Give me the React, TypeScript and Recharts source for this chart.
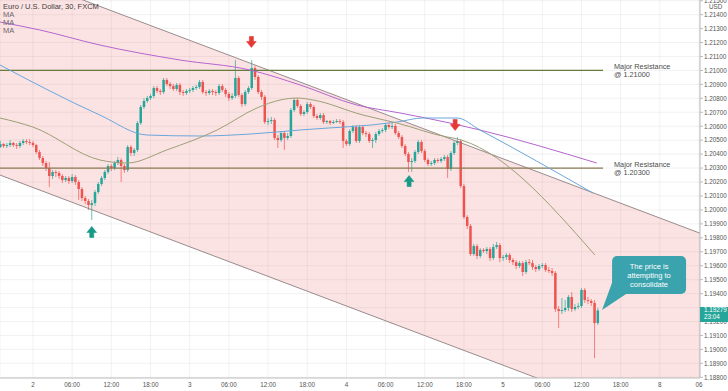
import React from 'react';
import {
  ComposedChart,
  Bar,
  Line,
  Area,
  XAxis,
  YAxis,
  CartesianGrid,
  ReferenceLine,
  ReferenceDot,
} from 'recharts';

// EUR/USD 30m candles, bar index 0 = "2" (00:00), one bar per 30 minutes
const firstBar = -10;
// [open, high, low, close]
const candles: number[][] = [
  [1.20451, 1.20494, 1.20444, 1.20472],
  [1.20472, 1.2048, 1.20444, 1.20458],
  [1.20458, 1.2048, 1.20444, 1.20465],
  [1.20465, 1.20501, 1.20451, 1.2048],
  [1.2048, 1.20487, 1.20451, 1.20465],
  [1.20465, 1.2048, 1.20437, 1.20458],
  [1.20458, 1.20494, 1.20444, 1.2048],
  [1.2048, 1.20508, 1.20465, 1.20494],
  [1.20494, 1.20508, 1.20472, 1.20487],
  [1.20487, 1.20508, 1.20465, 1.2048],
  [1.2048, 1.20494, 1.20451, 1.20465],
  [1.20465, 1.20472, 1.20401, 1.20415],
  [1.20415, 1.2043, 1.20358, 1.20372],
  [1.20372, 1.20386, 1.20315, 1.20336],
  [1.20336, 1.20351, 1.20279, 1.203],
  [1.203, 1.20343, 1.20164, 1.20243],
  [1.20243, 1.20286, 1.20222, 1.20272],
  [1.20272, 1.20286, 1.20236, 1.20265],
  [1.20265, 1.20279, 1.20222, 1.20243],
  [1.20243, 1.20257, 1.20193, 1.20214],
  [1.20214, 1.20243, 1.202, 1.20229],
  [1.20229, 1.20243, 1.20186, 1.20207],
  [1.20207, 1.20257, 1.20193, 1.20236],
  [1.20236, 1.2025, 1.20179, 1.202],
  [1.202, 1.20214, 1.20071, 1.2015],
  [1.2015, 1.20164, 1.20064, 1.20085],
  [1.20085, 1.201, 1.20042, 1.20064],
  [1.20064, 1.20078, 1.19999, 1.20035],
  [1.20035, 1.20071, 1.19928, 1.20049],
  [1.20049, 1.20143, 1.20028, 1.20128],
  [1.20128, 1.202, 1.20114, 1.20186],
  [1.20186, 1.20243, 1.20171, 1.20229],
  [1.20229, 1.20286, 1.20214, 1.20272],
  [1.20272, 1.20329, 1.20257, 1.20315],
  [1.20315, 1.20329, 1.20279, 1.203],
  [1.203, 1.20351, 1.20286, 1.20336],
  [1.20336, 1.20379, 1.20322, 1.20358],
  [1.20358, 1.20372, 1.202, 1.20315],
  [1.20315, 1.20329, 1.20265, 1.20286],
  [1.20286, 1.20465, 1.20272, 1.20451],
  [1.20451, 1.20465, 1.20386, 1.20408],
  [1.20408, 1.20444, 1.20386, 1.2043],
  [1.2043, 1.20637, 1.20415, 1.20623],
  [1.20623, 1.20752, 1.20609, 1.20738],
  [1.20738, 1.20802, 1.20723, 1.20781],
  [1.20781, 1.20817, 1.20767, 1.20802],
  [1.20802, 1.20831, 1.20788, 1.20817],
  [1.20817, 1.20888, 1.20802, 1.20874],
  [1.20874, 1.20888, 1.20838, 1.20853],
  [1.20853, 1.20867, 1.20824, 1.20845],
  [1.20845, 1.20946, 1.20831, 1.20932],
  [1.20932, 1.20946, 1.20888, 1.20903],
  [1.20903, 1.20917, 1.20867, 1.20888],
  [1.20888, 1.20903, 1.20853, 1.20867],
  [1.20867, 1.2091, 1.20853, 1.20896],
  [1.20896, 1.2091, 1.20824, 1.20845],
  [1.20845, 1.2086, 1.20817, 1.20838],
  [1.20838, 1.20867, 1.20824, 1.20853],
  [1.20853, 1.20874, 1.20838, 1.2086],
  [1.2086, 1.20888, 1.20845, 1.20874],
  [1.20874, 1.20896, 1.2086, 1.20881],
  [1.20881, 1.20932, 1.20867, 1.20917],
  [1.20917, 1.20932, 1.20831, 1.20845],
  [1.20845, 1.2086, 1.20817, 1.20838],
  [1.20838, 1.20867, 1.20824, 1.20853],
  [1.20853, 1.20867, 1.20824, 1.20845],
  [1.20845, 1.2086, 1.20817, 1.20838],
  [1.20838, 1.20903, 1.20824, 1.20888],
  [1.20888, 1.20903, 1.20845, 1.2086],
  [1.2086, 1.20874, 1.2081, 1.20831],
  [1.20831, 1.20845, 1.20781, 1.20802],
  [1.20802, 1.20838, 1.20788, 1.20817],
  [1.20817, 1.21075, 1.20802, 1.20946],
  [1.20946, 1.2096, 1.2081, 1.20824],
  [1.20824, 1.20838, 1.20738, 1.20759],
  [1.20759, 1.2086, 1.20745, 1.20845],
  [1.20845, 1.20888, 1.20831, 1.20874],
  [1.20874, 1.21075, 1.2086, 1.21017],
  [1.21017, 1.21032, 1.20932, 1.20953],
  [1.20953, 1.20967, 1.20831, 1.20845],
  [1.20845, 1.2086, 1.20788, 1.2081],
  [1.2081, 1.20824, 1.20616, 1.2063],
  [1.2063, 1.20659, 1.20609, 1.20637],
  [1.20637, 1.20666, 1.20616, 1.20645],
  [1.20645, 1.20659, 1.20501, 1.20516],
  [1.20516, 1.20537, 1.20444, 1.20501],
  [1.20501, 1.20566, 1.20487, 1.20551],
  [1.20551, 1.20566, 1.2043, 1.20516],
  [1.20516, 1.20551, 1.20501, 1.2053],
  [1.2053, 1.20731, 1.20516, 1.20716],
  [1.20716, 1.20802, 1.20702, 1.20788],
  [1.20788, 1.20802, 1.20731, 1.20745],
  [1.20745, 1.20759, 1.20673, 1.20688],
  [1.20688, 1.20716, 1.20673, 1.20702],
  [1.20702, 1.20774, 1.20688, 1.20759],
  [1.20759, 1.20774, 1.20723, 1.20738],
  [1.20738, 1.20752, 1.20659, 1.20673],
  [1.20673, 1.20688, 1.20645, 1.20659],
  [1.20659, 1.20695, 1.20645, 1.2068],
  [1.2068, 1.20695, 1.20616, 1.2063],
  [1.2063, 1.20645, 1.20616, 1.20637],
  [1.20637, 1.20645, 1.20609, 1.20623],
  [1.20623, 1.20645, 1.20616, 1.2063],
  [1.2063, 1.20652, 1.20623, 1.20637],
  [1.20637, 1.20652, 1.20616, 1.2063],
  [1.2063, 1.20645, 1.20444, 1.20494],
  [1.20494, 1.20508, 1.20458, 1.20472],
  [1.20472, 1.2058, 1.20458, 1.20566],
  [1.20566, 1.20609, 1.20551, 1.20594],
  [1.20594, 1.20609, 1.2048, 1.20494],
  [1.20494, 1.20609, 1.2048, 1.20594],
  [1.20594, 1.20609, 1.20537, 1.20551],
  [1.20551, 1.20566, 1.20523, 1.20544],
  [1.20544, 1.20559, 1.2048, 1.20494],
  [1.20494, 1.20516, 1.20444, 1.20501],
  [1.20501, 1.20559, 1.2048, 1.20544],
  [1.20544, 1.2058, 1.2053, 1.20566],
  [1.20566, 1.20587, 1.20551, 1.20573],
  [1.20573, 1.20623, 1.20559, 1.20609],
  [1.20609, 1.20623, 1.2058, 1.20594],
  [1.20594, 1.20623, 1.2058, 1.20602],
  [1.20602, 1.20616, 1.20537, 1.20551],
  [1.20551, 1.20566, 1.20508, 1.20523],
  [1.20523, 1.20537, 1.20444, 1.20458],
  [1.20458, 1.20472, 1.20386, 1.20401],
  [1.20401, 1.20415, 1.20272, 1.20343],
  [1.20343, 1.20372, 1.20272, 1.20351],
  [1.20351, 1.2043, 1.20336, 1.20415],
  [1.20415, 1.20501, 1.20401, 1.20487],
  [1.20487, 1.20501, 1.20408, 1.20422],
  [1.20422, 1.20437, 1.20343, 1.20358],
  [1.20358, 1.20372, 1.20315, 1.20329],
  [1.20329, 1.20351, 1.20315, 1.20336],
  [1.20336, 1.20372, 1.20322, 1.20358],
  [1.20358, 1.20372, 1.20336, 1.20351],
  [1.20351, 1.20379, 1.20336, 1.20365],
  [1.20365, 1.20394, 1.20351, 1.20379],
  [1.20379, 1.20394, 1.20229, 1.20293],
  [1.20293, 1.20422, 1.20279, 1.20408],
  [1.20408, 1.20494, 1.20394, 1.2048],
  [1.2048, 1.20523, 1.20465, 1.20494],
  [1.20494, 1.20508, 1.20157, 1.20171],
  [1.20171, 1.20186, 1.19935, 1.19949],
  [1.19949, 1.19963, 1.19863, 1.19885],
  [1.19885, 1.19899, 1.1967, 1.19684],
  [1.19684, 1.19756, 1.1967, 1.19741],
  [1.19741, 1.19756, 1.19648, 1.1967],
  [1.1967, 1.19727, 1.19655, 1.19713],
  [1.19713, 1.19727, 1.19691, 1.19705],
  [1.19705, 1.19734, 1.19684, 1.1972],
  [1.1972, 1.19734, 1.19634, 1.19655],
  [1.19655, 1.19756, 1.19641, 1.19734],
  [1.19734, 1.1977, 1.1972, 1.19748],
  [1.19748, 1.19763, 1.19626, 1.19655],
  [1.19655, 1.19677, 1.19634, 1.19662],
  [1.19662, 1.19691, 1.19641, 1.19677],
  [1.19677, 1.19691, 1.19619, 1.19641],
  [1.19641, 1.19655, 1.19605, 1.19626],
  [1.19626, 1.19641, 1.19576, 1.19598],
  [1.19598, 1.19634, 1.19583, 1.19619],
  [1.19619, 1.19634, 1.19526, 1.19555],
  [1.19555, 1.19641, 1.1954, 1.19626],
  [1.19626, 1.19648, 1.19605, 1.19619],
  [1.19619, 1.19641, 1.19569, 1.19591],
  [1.19591, 1.19605, 1.19555, 1.19576],
  [1.19576, 1.19612, 1.19562, 1.19598],
  [1.19598, 1.19619, 1.19583, 1.19605],
  [1.19605, 1.19619, 1.19555, 1.19569],
  [1.19569, 1.19591, 1.19548, 1.19562],
  [1.19562, 1.19583, 1.19526, 1.19548],
  [1.19548, 1.19562, 1.19268, 1.19289],
  [1.19289, 1.19311, 1.19153, 1.19275],
  [1.19275, 1.19368, 1.19254, 1.19282],
  [1.19282, 1.19354, 1.19268, 1.19297],
  [1.19297, 1.1939, 1.19275, 1.19376],
  [1.19376, 1.19411, 1.19268, 1.19289],
  [1.19289, 1.19325, 1.19275, 1.19304],
  [1.19304, 1.19333, 1.19289, 1.19311],
  [1.19311, 1.1944, 1.19297, 1.19426],
  [1.19426, 1.1944, 1.19333, 1.19354],
  [1.19354, 1.19376, 1.19325, 1.19347],
  [1.19347, 1.19361, 1.19311, 1.19333],
  [1.19333, 1.19354, 1.18938, 1.19189],
  [1.19189, 1.19297, 1.19175, 1.19279],
];

const lastPrice = 1.19279;
const countdown = '23:04';

// moving averages, [bar index, price]
const purpleMA = [
  [-10.1, 1.21347], [2.1, 1.2129], [20.5, 1.21182], [45, 1.21075], [66.5, 1.21003],
  [81.8, 1.20896], [99.2, 1.20752], [112.4, 1.20695], [127.7, 1.20623], [136.9, 1.20573],
  [172.7, 1.20336],
];
const blueMA = [
  [-10.1, 1.21039], [20.5, 1.2068], [34.9, 1.20537], [51.1, 1.2053], [66.5, 1.20544],
  [81.8, 1.20573], [111.5, 1.2063], [119.4, 1.20659], [129.9, 1.20659], [136.9, 1.20573],
  [171.5, 1.20121],
];
const oliveMA = [
  [-10.1, 1.20659], [0, 1.20594], [20.5, 1.20358], [28.8, 1.20336], [41, 1.2043],
  [56.4, 1.20573], [68.6, 1.20731], [75.7, 1.20788], [80.9, 1.20802], [85.8, 1.20788],
  [101.1, 1.2068], [111.5, 1.20623], [126.8, 1.20523], [128.6, 1.20516], [172.1, 1.19677],
];

// descending channel: [bar index, lower, upper]
const channel = [
  [-10.1, 1.2025, 1.2173],
  [204.3, 1.18353, 1.19833],
];

const resistances = [
  { price: 1.21, label: '@ 1.21000', color: '#667a3d' },
  { price: 1.203, label: '@ 1.20300', color: '#8a7a55' },
];
const resistanceEnd = 174.6;

const arrows = [
  { i: 66.9, price: 1.21204, down: true },
  { i: 129.3, price: 1.20609, down: true },
  { i: 18, price: 1.19842, down: false },
  { i: 115.2, price: 1.20207, down: false },
];

const calloutAt = { i: 174.3, price: 1.19282 };
const calloutLines = ['The price is', 'attempting to', 'consolidate'];

const xTicks = [0, 12, 24, 36, 48, 60, 72, 84, 96, 108, 120, 132, 144, 156, 168, 180, 192, 204];
const xTickLabels = ['2', '06:00', '12:00', '18:00', '3', '06:00', '12:00', '18:00', '4',
  '06:00', '12:00', '18:00', '5', '06:00', '12:00', '18:00', '8', '06'];
const yTicks = [1.188, 1.189, 1.19, 1.191, 1.192, 1.193, 1.194, 1.195, 1.196, 1.197, 1.198,
  1.199, 1.2, 1.201, 1.202, 1.203, 1.204, 1.205, 1.206, 1.207, 1.208, 1.209, 1.21, 1.211,
  1.212, 1.213, 1.214, 1.215];

const UP = '#26a69a';
const DOWN = '#ef5350';
const FONT = '"Liberation Sans", "DejaVu Sans", Arial, sans-serif';

const data = candles.map((k, n) => ({ i: firstBar + n, o: k[0], h: k[1], l: k[2], c: k[3] }));
const toPts = (arr: number[][]) => arr.map(([i, p]) => ({ i, p }));
const channelData = channel.map(([i, lo, hi]) => ({ i, lo, hi, band: [lo, hi] }));
// last price goes last so its badge is painted over the other labels
const axisTicks = [...yTicks, lastPrice];

const Candle = (props: any) => {
  const { x, y, width, height, payload } = props;
  if (!payload) return null;
  const { o, h, l, c } = payload;
  const top = Math.min(y, y + height);
  const span = Math.abs(height);
  const cx = x + width / 2;
  const range = h - l;
  const yOf = (v: number) => (range > 0 ? top + ((h - v) / range) * span : top);
  const bTop = yOf(Math.max(o, c));
  const bBot = yOf(Math.min(o, c));
  const color = c >= o ? UP : DOWN;
  return (
    <g>
      <line x1={cx} x2={cx} y1={top} y2={top + span} stroke={color} strokeWidth={0.7} />
      <rect x={cx - 1.25} y={bTop} width={2.5} height={Math.max(bBot - bTop, 0.7)} fill={color} />
    </g>
  );
};

const Arrow = ({ cx, cy, down }: any) => {
  const s = down ? 1 : -1;
  const color = down ? '#e53935' : '#179a86';
  const d = `M${cx - 2},${cy - 5.5 * s} L${cx + 2},${cy - 5.5 * s} L${cx + 2},${cy - 0.5 * s} ` +
    `L${cx + 4.8},${cy - 0.5 * s} L${cx},${cy + 5.5 * s} L${cx - 4.8},${cy - 0.5 * s} ` +
    `L${cx - 2},${cy - 0.5 * s} Z`;
  return <path d={d} fill={color} stroke={color} strokeWidth={0.6} strokeLinejoin="round" />;
};

const Callout = ({ cx, cy }: any) => (
  <g>
    <path d={`M${cx},${cy} L${cx + 11},${cy - 30} L${cx + 24},${cy - 16} Z`} fill="#3aa3ad" />
    <rect x={cx + 10} y={cy - 54} width={74} height={38} rx={5} fill="#3aa3ad" />
    <text textAnchor="middle" fontSize={7.5} fill="#fff" fontFamily={FONT}>
      {calloutLines.map((t, k) => (
        <tspan key={k} x={cx + 47} y={cy - 41.5 + k * 9}>{t}</tspan>
      ))}
    </text>
  </g>
);

const PriceTick = ({ x, y, payload }: any) => {
  const v = payload.value;
  if (v === lastPrice) {
    return (
      <g>
        <rect x={x - 4} y={y - 3.5} width={28} height={15} fill={UP} />
        <text x={x} y={y + 1.8} fontSize={6.3} fill="#fff" fontFamily={FONT}>{lastPrice.toFixed(5)}</text>
        <text x={x} y={y + 9} fontSize={6.3} fill="#fff" fontFamily={FONT}>{countdown}</text>
      </g>
    );
  }
  // labels fully hidden behind the last-price badge
  if (v > lastPrice && v - lastPrice < 0.0004) return null;
  return (
    <g>
      <text x={x} y={y} dy={2.3} fontSize={6.3} fill="#555" fontFamily={FONT}>
        {v.toFixed(5)}
      </text>
      {v === 1.215 && (
        <text x={x + 5} y={y + 8} fontSize={6.3} fill="#555" fontFamily={FONT}>USD</text>
      )}
    </g>
  );
};

const TimeTick = ({ x, y, payload }: any) => {
  const k = xTicks.indexOf(payload.value);
  return (
    <text x={x} y={y + 9} textAnchor="middle" fontSize={6.3} fill="#555" fontFamily={FONT}>
      {k >= 0 ? xTickLabels[k] : ''}
    </text>
  );
};

const ResLabel = ({ viewBox, text }: any) => {
  const { x, y, width } = viewBox;
  return (
    <text fontSize={7.3} fill="#4d4d4d" fontFamily={FONT}>
      <tspan x={x + width + 11} y={y - 1}>Major Resistance</tspan>
      <tspan x={x + width + 11} y={y + 6.6}>{text}</tspan>
    </text>
  );
};

export default function App() {
  return (
    <div style={{ position: 'absolute', left: 0, top: 0, width: 728, height: 391, background: '#fff', fontFamily: FONT }}>
      <ComposedChart width={728} height={391} data={data} margin={{ top: 0, right: 0, bottom: 0, left: 0 }}>
        <CartesianGrid stroke="rgba(120,120,120,0.12)" strokeWidth={0.8} horizontalValues={yTicks} />
        <XAxis
          dataKey="i"
          type="number"
          domain={[-10.1, 204.3]}
          allowDataOverflow
          ticks={xTicks}
          interval={0}
          height={13}
          tickLine={false}
          tickSize={0}
          tickMargin={0}
          axisLine={{ stroke: '#bdbdbd' }}
          tick={<TimeTick />}
        />
        <YAxis
          orientation="right"
          type="number"
          domain={[1.18795, 1.21505]}
          allowDataOverflow
          ticks={axisTicks}
          interval={0}
          width={28}
          tickSize={3}
          tickMargin={1}
          tickLine={{ stroke: '#bdbdbd' }}
          axisLine={{ stroke: '#bdbdbd' }}
          tick={<PriceTick />}
        />
        <Area
          data={channelData}
          dataKey="band"
          type="linear"
          stroke="none"
          fill="#f06464"
          fillOpacity={0.18}
          isAnimationActive={false}
        />
        <Line data={channelData} dataKey="hi" type="linear" stroke="#8d7f80" strokeWidth={0.9} dot={false} isAnimationActive={false} />
        <Line data={channelData} dataKey="lo" type="linear" stroke="#8d7f80" strokeWidth={0.9} dot={false} isAnimationActive={false} />
        {resistances.map((r) => (
          <ReferenceLine
            key={r.label}
            segment={[{ x: -10.1, y: r.price }, { x: resistanceEnd, y: r.price }]}
            stroke={r.color}
            strokeWidth={1.3}
            ifOverflow="visible"
            label={<ResLabel text={r.label} />}
          />
        ))}
        <Line data={toPts(purpleMA)} dataKey="p" type="monotone" stroke="#b565cf" strokeWidth={1} dot={false} isAnimationActive={false} />
        <Line data={toPts(blueMA)} dataKey="p" type="monotone" stroke="#6aa6dc" strokeWidth={1} dot={false} isAnimationActive={false} />
        <Line data={toPts(oliveMA)} dataKey="p" type="monotone" stroke="#9c9f76" strokeWidth={1} dot={false} isAnimationActive={false} />
        <Bar dataKey={(d: any) => [d.l, d.h]} shape={(p: any) => <Candle {...p} />} isAnimationActive={false} />
        {arrows.map((a, k) => (
          <ReferenceDot key={k} x={a.i} y={a.price} r={5} shape={(p: any) => <Arrow {...p} down={a.down} />} />
        ))}
        <ReferenceDot x={calloutAt.i} y={calloutAt.price} r={1} shape={(p: any) => <Callout {...p} />} />
      </ComposedChart>
      <div style={{ position: 'absolute', left: 3, top: 2.5, fontSize: 7.5, lineHeight: '8.3px', color: '#3d3d3d', pointerEvents: 'none' }}>
        <div>Euro / U.S. Dollar, 30, FXCM</div>
        <div style={{ color: '#6a6a6a' }}>MA</div>
        <div style={{ color: '#6a6a6a' }}>MA</div>
        <div style={{ color: '#6a6a6a' }}>MA</div>
      </div>
    </div>
  );
}
